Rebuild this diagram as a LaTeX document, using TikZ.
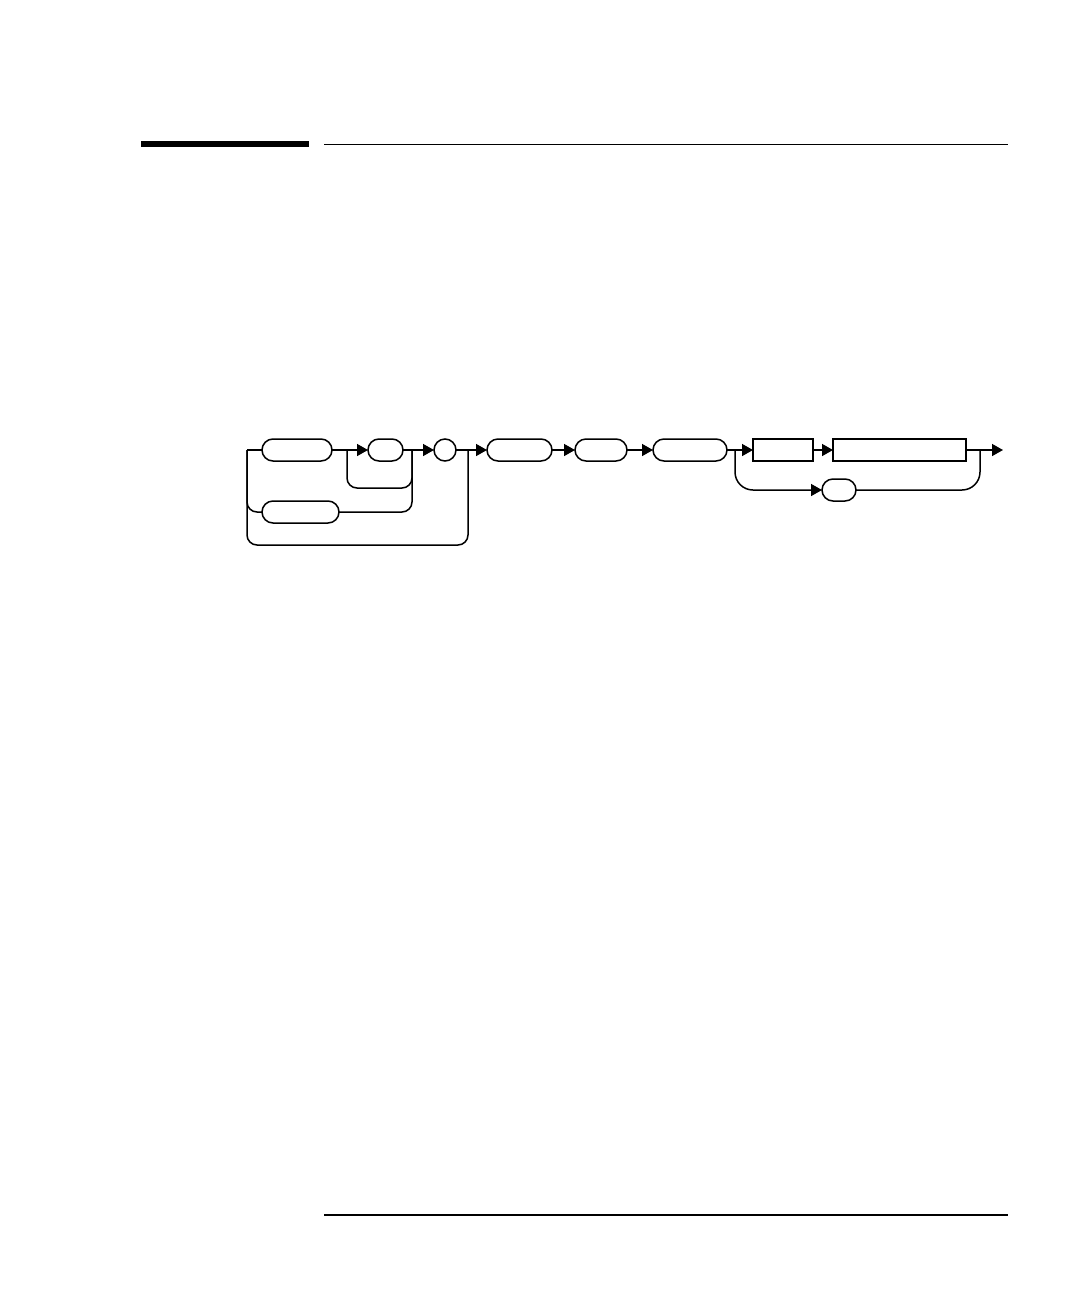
\documentclass[tikz,border=0pt]{standalone}
\usetikzlibrary{positioning,arrows.meta}

\begin{document}
\begin{tikzpicture}[
    x=1pt,y=-1pt,
    keynode/.style={rectangle, rounded corners=11pt, draw, line width=1.5pt, minimum height=22pt, inner sep=0pt, outer sep=0pt},
    boxnode/.style={rectangle, draw, line width=1.8pt, minimum height=22pt, inner sep=0pt, outer sep=0pt},
    sepnode/.style={circle, draw, line width=1.5pt, minimum size=22pt, inner sep=0pt, outer sep=0pt},
    >={Triangle[length=11pt,width=12pt]},
    line width=1.5pt, node distance=30pt,
    ]
\useasboundingbox (0,0) rectangle (1080,1296);

%Rules
\fill (141,141) rectangle (309,147);
\draw[line width=1.2pt] (324,144.5) -- (1008,144.5);
\draw[line width=1.4pt] (324,1215) -- (1008,1215);

%Nodes
\node[keynode, minimum width=70pt]  (root)   at (297,450)           {};
\node[keynode, minimum width=35pt]  (sub)    [right=36pt of root]   {};
\node[sepnode]                      (colon)  [right=31pt of sub]    {};
\node[keynode, minimum width=77pt]  (alt)    at (300.5,512)         {};
\node[keynode, minimum width=65pt]  (cmdA)   [right=31pt of colon]  {};
\node[keynode, minimum width=52pt]  (cmdB)   [right=23pt of cmdA]   {};
\node[keynode, minimum width=74pt]  (cmdC)   [right=26pt of cmdB]   {};
\node[boxnode, minimum width=60pt]  (param)  [right=26pt of cmdC]   {};
\node[boxnode, minimum width=133pt] (value)  [right=20pt of param]  {};
\node[keynode, minimum width=34pt]  (query)  at (839,490)           {};

%Junctions
\coordinate (j0)  at (247,450);
\coordinate (j1)  at (347,450);
\coordinate (j2)  at (412,450);
\coordinate (j3)  at (468,450);
\coordinate (j4)  at (735,450);
\coordinate (j5)  at (980,450);
\coordinate (end) at (1003,450);

%Lines
\draw (j0) -- (root.west);
\draw[->] (root.east) -- (sub.west);
\draw[->] (sub.east) -- (colon.west);
\draw[->] (colon.east) -- (cmdA.west);
\draw[->] (cmdA.east) -- (cmdB.west);
\draw[->] (cmdB.east) -- (cmdC.west);
\draw[->] (cmdC.east) -- (param.west);
\draw[->] (param.east) -- (value.west);
\draw[->] (value.east) -- (end);

\draw[rounded corners=10pt] (j1) -- ++(0,38) -| (j2);
\draw[rounded corners=10pt] (j0) |- (alt.west);
\draw[rounded corners=10pt] (alt.east) -| (j2);
\draw[rounded corners=10pt] (j0) -- ++(0,95) -| (j3);
\draw[->, rounded corners=18pt] (j4) |- (query.west);
\draw[rounded corners=18pt] (query.east) -| (j5);
\end{tikzpicture}
\end{document}
